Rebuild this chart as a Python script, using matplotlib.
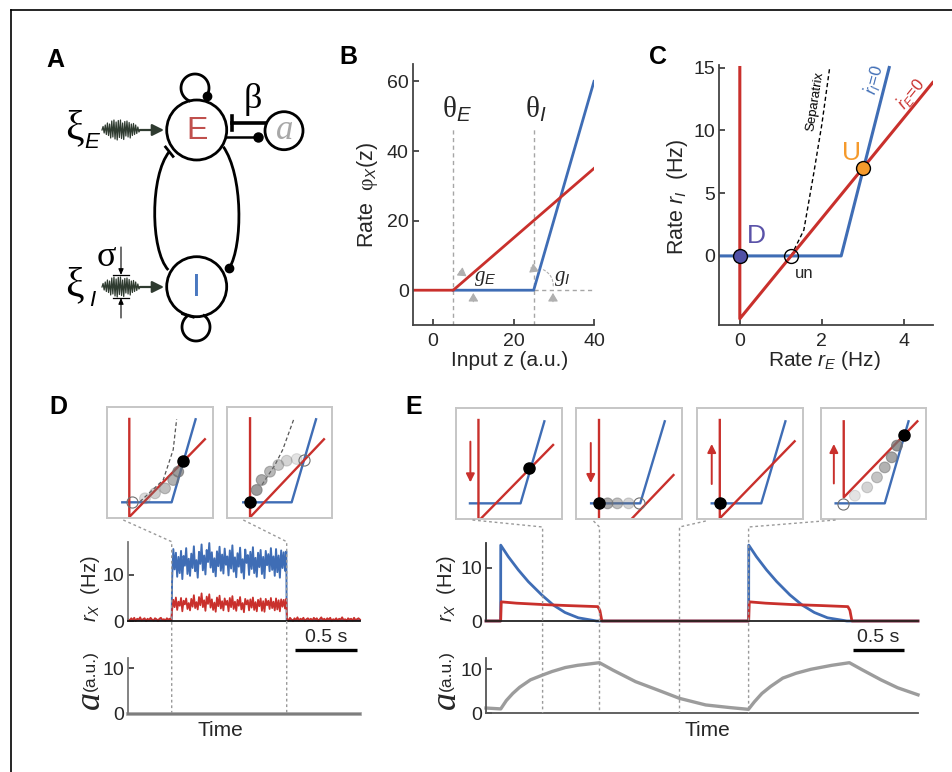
import numpy as np
import matplotlib
matplotlib.use("Agg")
import matplotlib.pyplot as plt
from matplotlib.patches import Circle, PathPatch
from matplotlib.path import Path

W, H = 952, 772
plt.rcParams['font.family'] = ['Liberation Sans', 'DejaVu Sans']
plt.rcParams['mathtext.fontset'] = 'custom'
plt.rcParams['mathtext.rm'] = 'Liberation Serif'
plt.rcParams['mathtext.it'] = 'Liberation Sans:italic'
plt.rcParams['mathtext.sf'] = 'Liberation Sans'
plt.rcParams['mathtext.cal'] = 'Liberation Serif:italic'

RED = '#c9302c'
BLUE = '#3f6db5'
AGRAY = '#9c9c9c'
TXT = '#262626'

# ---------------- data ----------------
# B: transfer functions
z_red = [-5, 5, 40]
phi_red = [0, 0, 35]
z_blue = [5, 25, 40]
phi_blue = [0, 0, 60]
theta_E, theta_I = 5, 25

# C: phase plane
rE_null_x = [0, 0, 4.7]
rE_null_y = [15, -5, 13.8]
rI_null_x = [-0.5, 2.47, 3.64]
rI_null_y = [0, 0, 15]
sep_x = [1.25, 1.56, 1.8, 2.0, 2.19]
sep_y = [0, 2.06, 6.55, 10.5, 15]
fp_D = (0, 0)
fp_un = (1.25, 0)
fp_U = (3.0, 7.0)

# A: noise squiggle
xi_noise = [0.0, 0.35, -0.3, 0.5, -0.45, 0.7, -0.55, 0.6, -0.8, 0.9, -0.7, 1.0,
            -0.9, 0.8, -1.0, 0.95, -0.75, 1.0, -0.85, 0.7, -0.95, 0.85, -0.6, 0.9,
            -0.7, 0.75, -0.8, 0.6, -0.55, 0.65, -0.45, 0.5, -0.35, 0.3, -0.2, 0.0]

# D: noisy rates (Hz)
D_on, D_off, D_end = 0.352, 1.285, 1.88
blue_up = [8.5, 15.6, 11.2, 14.8, 9.6, 13.9, 10.4, 15.2, 9.1, 14.1, 12.0, 15.8, 10.2,
           13.5, 9.8, 14.6, 11.5, 16.2, 10.8, 13.2, 9.4, 15.0, 12.4, 16.6, 11.0, 14.2,
           10.1, 15.4, 12.8, 16.9, 11.6, 14.9, 10.6, 13.6, 9.7, 15.1, 11.9, 16.1, 10.9,
           14.4, 10.3, 15.7, 12.2, 14.0, 9.9, 15.3, 11.4, 16.4, 10.7, 13.8, 9.5, 14.7,
           11.8, 15.9, 10.5, 13.4, 9.2, 15.5, 12.6, 14.3, 10.0, 15.0, 11.3, 16.0, 10.4,
           13.7, 9.6, 14.8, 11.7, 15.4, 10.2, 13.9, 9.3, 15.2, 12.1, 14.5, 10.8, 15.8,
           11.1, 14.0, 9.8, 15.6, 10.6, 14.2, 9.4, 15.3, 11.5, 14.9, 10.9, 15.1]
red_up = [2.2, 4.6, 3.0, 5.1, 2.4, 4.2, 3.3, 5.0, 2.1, 4.4, 3.6, 4.9, 2.6, 3.9, 2.3,
          4.8, 3.1, 5.6, 2.8, 4.1, 2.5, 5.2, 3.4, 6.0, 3.0, 4.5, 2.2, 5.3, 3.7, 5.8,
          2.9, 4.7, 2.4, 4.0, 2.0, 5.1, 3.2, 5.5, 2.7, 4.3, 2.3, 4.9, 3.5, 4.4, 2.1,
          5.0, 3.0, 5.4, 2.6, 4.2, 2.2, 4.6, 3.3, 5.2, 2.5, 3.9, 1.9, 4.8, 3.6, 4.5,
          2.3, 4.7, 2.9, 5.1, 2.4, 4.1, 2.1, 4.6, 3.2, 4.9, 2.2, 4.3, 2.0, 4.8, 3.4,
          4.4, 2.6, 5.0, 2.8, 4.2, 2.3, 4.9, 2.5, 4.5, 2.1, 4.7, 3.1, 4.6, 2.7, 4.8]
red_down_pre = [0.4, 0.1, 0.6, 0.2, 0.7, 0.0, 0.5, 0.3, 0.8, 0.1, 0.4, 0.6, 0.0, 0.5,
                0.2, 0.7, 0.3, 0.1, 0.6, 0.4, 0.0, 0.5, 0.7, 0.2, 0.4, 0.1, 0.6, 0.3,
                0.5, 0.2]
red_down_post = [0.5, 0.1, 0.7, 0.3, 0.0, 0.6, 0.2, 0.8, 0.1, 0.5, 0.3, 0.7, 0.0, 0.4,
                 0.6, 0.2, 0.5, 0.1, 0.7, 0.3, 0.6, 0.0, 0.4, 0.8, 0.2, 0.5, 0.1, 0.6,
                 0.3, 0.7, 0.0, 0.4, 0.2, 0.6, 0.1, 0.5, 0.3, 0.8, 0.2, 0.4, 0.0, 0.6,
                 0.3, 0.5, 0.1, 0.7, 0.2, 0.4, 0.6, 0.3]
blue_down = [0.2, 0.2]
D_a_t = [0, D_end]
D_a_v = [0, 0]

# E: rates and adaptation
E_blue_t = [0, 0.144, 0.145, 0.219, 0.318, 0.416, 0.548, 0.662, 0.777, 0.908, 1.088,
            2.584, 2.585, 2.66, 2.76, 2.86, 2.99, 3.11, 3.23, 3.36, 3.55, 4.25]
E_blue_v = [0, 0, 14.25, 12.1, 9.6, 7.4, 4.9, 3.0, 1.6, 0.6, 0,
            0, 14.25, 12.1, 9.6, 7.4, 4.9, 3.0, 1.6, 0.6, 0, 0]
E_red_t = [0, 0.144, 0.15, 0.3, 0.55, 0.8, 1.1, 1.12, 1.14,
           2.584, 2.59, 2.75, 3.0, 3.3, 3.56, 3.58, 3.60, 4.25]
E_red_v = [0, 0, 3.6, 3.35, 3.1, 2.9, 2.7, 2.0, 0,
           0, 3.6, 3.35, 3.1, 2.9, 2.7, 2.0, 0, 0]
E_a_t = [0, 0.145, 0.2, 0.263, 0.33, 0.437, 0.557, 0.65, 0.78, 0.9, 1.116, 1.25,
         1.471, 1.7, 1.903, 2.161, 2.4, 2.582, 2.64, 2.714, 2.8, 2.92, 3.05, 3.196,
         3.4, 3.575, 3.7, 3.886, 4.05, 4.25]
E_a_v = [1.2, 1.0, 2.9, 4.5, 5.9, 7.6, 8.7, 9.5, 10.4, 10.9, 11.5, 9.8,
         7.2, 5.2, 3.4, 1.9, 1.3, 0.9, 2.6, 4.5, 6.1, 8.0, 9.1, 10.0,
         10.9, 11.5, 9.9, 7.6, 5.8, 4.2]

# insets (normalised 0-100 box units)
D1_red = ([21.2, 21.2, 92.1], [89.5, 1.2, 71.2])
D1_blue = ([14.6, 60.9, 83.4], [14.4, 14.4, 89.2])
D1_sep = ([31.2, 53, 62.4, 65.6], [15, 34.5, 61.9, 89.2])
D1_dots = ([35.9, 45.3, 54.7, 62.4, 67.1], [18, 22.5, 27, 34.5, 42])
D1_dot_alpha = [0.25, 0.35, 0.45, 0.55, 0.7]
D1_open, D1_black = (23.4, 15), (71.8, 51.9)

D2_red = ([22.1, 22.1, 92.1], [90.1, 0.9, 71.2])
D2_blue = ([15.7, 61.5, 84.6], [14.4, 14.4, 89.2])
D2_sep = ([33.4, 45.7, 53.0, 63.5], [30.2, 48.0, 61.7, 89.2])
D2_dots = ([28.4, 33.1, 41, 48.9, 56.8, 66.3], [25.5, 34.5, 42, 48, 51.9, 53.4])
D2_dot_alpha = [0.7, 0.6, 0.5, 0.4, 0.3, 0.2]
D2_open, D2_black = (73.2, 52.5), (22.1, 15)

E1_red = ([21.5, 21.5, 23.4, 91.7], [89.2, 0, 0, 66.7])
E1_blue = ([13.5, 61.1, 83.5], [14.1, 14.1, 88])
E1_black = (69.3, 46.2)
E1_arrow = (13.9, 69.7, 33)

E2_red_v = ([22.1, 22.1], [89.2, 0])
E2_red_d = ([52.8, 91.7], [0.6, 39.6])
E2_blue = ([14.2, 60.4, 83.5], [14.1, 14.1, 88])
E2_dots = ([29.7, 38.9, 49.5], [14.1, 14.1, 14.1])
E2_dot_alpha = [0.6, 0.45, 0.3]
E2_open, E2_black = (59.4, 14.1), (22.1, 14.1)
E2_arrow = (13.9, 68.5, 32.4)

E3_red = ([21.5, 21.5, 92.1], [89.2, 0.6, 70])
E3_blue = ([13.9, 60.6, 83.4], [14.1, 14.1, 88])
E3_black = (21.5, 14.1)
E3_arrow = (13.9, 31.5, 67.6)

E4_red = ([21.7, 21.7, 91.7], [88, 19.5, 88])
E4_blue = ([14, 60.7, 83.3], [14.1, 14.1, 88])
E4_dots = ([32.3, 44, 53.3, 60.7, 67.3, 72.3], [21, 28.5, 37.5, 46.5, 55.6, 66.1])
E4_dot_alpha = [0.2, 0.3, 0.42, 0.55, 0.65, 0.75]
E4_open, E4_black = (20.7, 13.5), (79, 76)
E4_arrow = (12.3, 32, 67.6)

# ---------------- figure ----------------
fig = plt.figure(figsize=(W / 100, H / 100), dpi=100)


def rect(l, t, r, b):
    return [l / W, 1 - b / H, (r - l) / W, (b - t) / H]


ov = fig.add_axes([0, 0, 1, 1], zorder=5)
ov.set_xlim(0, W)
ov.set_ylim(H, 0)
ov.axis('off')

# frame
ov.plot([11, 952], [9.5, 9.5], color='k', lw=1.2, clip_on=False)
ov.plot([11, 11], [9.5, 772], color='k', lw=1.2, clip_on=False)

for lab, x, y in [('A', 55, 60), ('B', 348, 57), ('C', 658, 57), ('D', 58, 407), ('E', 414, 407)]:
    ov.text(x, y, lab, fontsize=18, fontweight='bold', ha='center', va='center')

# ---------------- panel A ----------------
cE, cI, ca = (196.7, 130), (196.7, 286.7), (284, 130.7)
for c, r in [(cE, 30), (cI, 30), (ca, 19)]:
    ov.add_patch(Circle(c, r, fill=False, lw=2, ec='k'))
ov.text(cE[0], cE[1] + 1, 'E', color='#c0504d', fontsize=23, ha='center', va='center')
ov.text(cI[0], cI[1] + 1, 'I', color='#4a78c0', fontsize=23, ha='center', va='center')
ov.text(ca[0], ca[1] - 1, r'$\mathcal{a}$', color='#a8a8a8', fontsize=25, ha='center', va='center')


def bar(x, y, c, L=12, lw=2):
    dx, dy = x - c[0], y - c[1]
    n = np.hypot(dx, dy)
    tx, ty = -dy / n, dx / n
    ov.plot([x - tx * L / 2, x + tx * L / 2], [y - ty * L / 2, y + ty * L / 2], color='k', lw=lw)


ang = np.radians(np.linspace(-35, 245, 80))
ov.plot(195 + 14 * np.cos(ang), 88 - 14 * np.sin(ang), color='k', lw=2)
ov.plot(206.5, 96, 'o', color='k', ms=6)
ang = np.radians(np.linspace(125, 415, 80))
ov.plot(196 + 14 * np.cos(ang), 327 - 14 * np.sin(ang), color='k', lw=2)
bar(188, 315.5, cI, L=11)

left = Path([(169.3, 151.7), (150, 175), (150, 250), (168.3, 270)],
            [Path.MOVETO, Path.CURVE4, Path.CURVE4, Path.CURVE4])
right = Path([(223.3, 146.7), (243, 175), (243, 245), (229.3, 268.3)],
             [Path.MOVETO, Path.CURVE4, Path.CURVE4, Path.CURVE4])
ov.add_patch(PathPatch(left, fill=False, lw=2, ec='k'))
ov.add_patch(PathPatch(right, fill=False, lw=2, ec='k'))
bar(169.3, 151.7, cE, L=12)
ov.plot(229.3, 268.3, 'o', color='k', ms=6)

ov.plot([232, 265], [122.7, 122.7], color='k', lw=2.6)
ov.plot([232, 232], [115.5, 130], color='k', lw=2.6)
ov.plot([226, 258], [136.7, 136.7], color='k', lw=1.8)
ov.plot(258, 136.7, 'o', color='k', ms=6.5)
ov.text(252, 99, r'$\mathrm{\beta}$', fontsize=26, ha='center', va='center')

NOISE = '#2f3b30'
xs = np.linspace(102, 140, len(xi_noise))
for yc, lab, sub in [(130, r'$\mathrm{\xi}$', 'E'), (287, r'$\mathrm{\xi}$', 'I')]:
    ov.plot(xs, yc - 10 * np.array(xi_noise), color=NOISE, lw=0.9)
    ov.annotate('', xy=(164, yc), xytext=(140, yc),
                arrowprops=dict(arrowstyle='-|>,head_length=0.7,head_width=0.35',
                                color=NOISE, lw=1.6, shrinkA=0, shrinkB=0))
    ov.text(75, yc - 1, lab, fontsize=30, ha='center', va='center')
    ov.text(92, yc + 13, sub, fontsize=16, style='italic', ha='center', va='center')

ov.text(106, 256, r'$\mathrm{\sigma}$', fontsize=26, ha='center', va='center')
for y0, y1 in [(247, 275), (318, 298)]:
    ov.annotate('', xy=(121, y1), xytext=(121, y0),
                arrowprops=dict(arrowstyle='-|>,head_length=0.35,head_width=0.15',
                                color='k', lw=0.8, shrinkA=0, shrinkB=0))
    ov.plot([113, 129], [y1, y1], color='k', lw=0.9)


def style_axes(ax, lc='#444444', bc='#444444'):
    for s in ['top', 'right']:
        ax.spines[s].set_visible(False)
    ax.spines['left'].set_color(lc)
    ax.spines['bottom'].set_color(bc)
    ax.spines['left'].set_linewidth(1.3)
    ax.spines['bottom'].set_linewidth(1.3)
    ax.tick_params(direction='in', length=4, width=1.2, labelsize=14,
                   labelcolor=TXT, color='#333333', pad=3)


# ---------------- panel B ----------------
axB = fig.add_axes(rect(413, 64, 594, 325))
style_axes(axB)
dash = (0, (3, 2.5))
axB.plot([theta_E, theta_E], [-10, 47], color='#a6a6a6', ls=dash, lw=1)
axB.plot([theta_I, theta_I], [-10, 47], color='#a6a6a6', ls=dash, lw=1)
axB.plot([theta_I, 40], [0, 0], color='#a6a6a6', ls=dash, lw=1)
axB.plot(z_blue, phi_blue, color=BLUE, lw=2)
axB.plot(z_red, phi_red, color=RED, lw=2)
axB.set_xlim(-5, 40)
axB.set_ylim(-10, 65)
axB.set_xticks([0, 20, 40])
axB.set_yticks([0, 20, 40, 60])
axB.tick_params(axis='x', pad=6)
axB.text(6, 52, r'$\mathrm{\theta}_E$', fontsize=21, ha='center', va='center', color=TXT)
axB.text(25.5, 52, r'$\mathrm{\theta}_I$', fontsize=21, ha='center', va='center', color=TXT)
axB.text(13, 3.3, r'$\mathcal{g}_E$', fontsize=15, ha='center', va='center', color=TXT)
axB.text(32.2, 3.3, r'$\mathcal{g}_I$', fontsize=15, ha='center', va='center', color=TXT)
ag = dict(arrowstyle='-|>,head_length=0.5,head_width=0.3', color='#b0b0b0', lw=0.8,
          shrinkA=0, shrinkB=0)
for tip, tail in [((8.3, 4.0), (6.6, 5.4)), ((10, -0.8), (10, -3.3)),
                  ((26.3, 5.4), (24.3, 6.4)), ((29.8, -0.8), (29.8, -3.3))]:
    axB.annotate('', xy=tip, xytext=tail, arrowprops=ag)
axB.annotate('', xy=(29.8, 0.3), xytext=(26.8, 6.2),
             arrowprops=dict(arrowstyle='-', color='#b0b0b0', lw=0.8, ls=(0, (2, 2)),
                             connectionstyle='arc3,rad=-0.4'))
ov.text(368, 195, r'Rate  $\mathrm{\varphi}_X$(z)', fontsize=15.5, rotation=90,
        ha='center', va='center', color=TXT)
ov.text(510, 361, 'Input z (a.u.)', fontsize=15, ha='center', va='center', color=TXT)

# ---------------- panel C ----------------
axC = fig.add_axes(rect(719.3, 65, 932.7, 325))
style_axes(axC)
axC.plot(sep_x, sep_y, color='k', ls=(0, (3, 2)), lw=1)
axC.plot(rI_null_x, rI_null_y, color=BLUE, lw=2.2)
axC.plot(rE_null_x, rE_null_y, color=RED, lw=2.2)
axC.plot(*fp_D, 'o', mfc='#5151a6', mec='k', ms=10, mew=1)
axC.plot(*fp_un, 'o', mfc='none', mec='k', ms=10, mew=1)
axC.plot(*fp_U, 'o', mfc='#f59a2c', mec='k', ms=10, mew=1)
axC.set_xlim(-0.5, 4.7)
axC.set_ylim(-5.5, 15.2)
axC.set_xticks([0, 2, 4])
axC.set_yticks([0, 5, 10, 15])
axC.tick_params(axis='x', pad=6)
axC.text(0.4, 1.6, 'D', color='#5a52a8', fontsize=19, ha='center', va='center')
axC.text(2.72, 8.2, 'U', color='#f59a2c', fontsize=19, ha='center', va='center')
axC.text(1.57, -1.4, 'un', fontsize=12, ha='center', va='center', color=TXT)
axC.text(1.84, 12.3, 'Separatrix', fontsize=9.5, rotation=81, ha='center', va='center')
axC.text(3.28, 14.0, r'$\dot{r}_I$=0', fontsize=12, rotation=75, ha='center',
         va='center', color=BLUE)
axC.text(4.2, 12.9, r'$\dot{r}_E$=0', fontsize=12, rotation=51, ha='center',
         va='center', color=RED)
ov.text(677, 197, r'Rate $r_I$  (Hz)', fontsize=15.5, rotation=90, ha='center',
        va='center', color=TXT)
ov.text(825, 361, r'Rate $r_E$ (Hz)', fontsize=15, ha='center', va='center', color=TXT)


# ---------------- insets ----------------
def make_inset(l, t, r, b):
    ax = fig.add_axes(rect(l, t, r, b))
    ax.set_xlim(0, 100)
    ax.set_ylim(0, 100)
    ax.set_xticks([])
    ax.set_yticks([])
    for s in ax.spines.values():
        s.set_color('#c6c6c6')
        s.set_linewidth(1.4)
    return ax


def dots(ax, pts, alphas):
    cols = [(0.45, 0.45, 0.45, a) for a in alphas]
    ax.scatter(pts[0], pts[1], s=60, c=cols, edgecolors=cols, linewidths=0.8, zorder=4)


def black(ax, p):
    ax.plot(*p, 'o', color='k', ms=8, zorder=6)


def hollow(ax, p):
    ax.plot(*p, 'o', mfc='none', mec='#707070', ms=8, mew=0.8, zorder=5)


def red_arrow(ax, a):
    ax.annotate('', xy=(a[0], a[2]), xytext=(a[0], a[1]),
                arrowprops=dict(arrowstyle='-|>,head_length=0.5,head_width=0.25',
                                color=RED, lw=1.4, shrinkA=0, shrinkB=0))


LWI = 1.7
ax = make_inset(106.7, 407.3, 213.3, 518.3)
ax.plot(*D1_sep, color='#555555', ls=(0, (3, 2)), lw=0.9)
ax.plot(*D1_blue, color=BLUE, lw=LWI)
ax.plot(*D1_red, color=RED, lw=LWI)
dots(ax, D1_dots, D1_dot_alpha)
hollow(ax, D1_open)
black(ax, D1_black)

ax = make_inset(226.7, 407.3, 332.3, 518.3)
ax.plot(*D2_sep, color='#555555', ls=(0, (3, 2)), lw=0.9)
ax.plot(*D2_blue, color=BLUE, lw=LWI)
ax.plot(*D2_red, color=RED, lw=LWI)
dots(ax, D2_dots, D2_dot_alpha)
hollow(ax, D2_open)
black(ax, D2_black)

ax = make_inset(455.6, 408, 561.9, 519)
ax.plot(*E1_blue, color=BLUE, lw=LWI)
ax.plot(*E1_red, color=RED, lw=LWI)
black(ax, E1_black)
red_arrow(ax, E1_arrow)

ax = make_inset(576, 408, 682.3, 519)
ax.plot(*E2_blue, color=BLUE, lw=LWI)
ax.plot(*E2_red_v, color=RED, lw=LWI)
ax.plot(*E2_red_d, color=RED, lw=LWI)
dots(ax, E2_dots, E2_dot_alpha)
hollow(ax, E2_open)
black(ax, E2_black)
red_arrow(ax, E2_arrow)

ax = make_inset(697, 408, 803, 519)
ax.plot(*E3_blue, color=BLUE, lw=LWI)
ax.plot(*E3_red, color=RED, lw=LWI)
black(ax, E3_black)
red_arrow(ax, E3_arrow)

ax = make_inset(820.9, 408, 926.1, 519)
ax.plot(*E4_blue, color=BLUE, lw=LWI)
ax.plot(*E4_red, color=RED, lw=LWI)
dots(ax, E4_dots, E4_dot_alpha)
hollow(ax, E4_open)
black(ax, E4_black)
red_arrow(ax, E4_arrow)

# ---------------- panel D traces ----------------
t_pre = np.linspace(0, D_on - 0.003, len(red_down_pre))
t_up = np.linspace(D_on + 0.003, D_off - 0.003, len(blue_up))
t_post = np.linspace(D_off + 0.003, D_end, len(red_down_post))
D_blue_t = [0, D_on] + list(t_up) + [D_off, D_end]
D_blue_v = blue_down[:1] + [blue_down[0]] + blue_up + [blue_down[1], blue_down[1]]
D_red_t = list(t_pre) + list(t_up) + list(t_post)
D_red_v = red_down_pre + red_up + red_down_post

axDr = fig.add_axes(rect(128.3, 541.7, 360, 621))
style_axes(axDr, lc='#7a7a7a', bc='#111111')
axDr.plot(D_blue_t, D_blue_v, color=BLUE, lw=1.4, clip_on=False)
axDr.plot(D_red_t, D_red_v, color=RED, lw=1.3, clip_on=False)
axDr.set_xlim(0, D_end)
axDr.set_ylim(0, 17.2)
axDr.set_xticks([])
axDr.set_yticks([0, 10])

axDa = fig.add_axes(rect(128.3, 658.3, 360, 714))
style_axes(axDa, lc='#7a7a7a', bc='#7a7a7a')
axDa.plot(D_a_t, D_a_v, color=AGRAY, lw=2.6, clip_on=False)
axDa.set_xlim(0, D_end)
axDa.set_ylim(0, 12.2)
axDa.set_xticks([])
axDa.set_yticks([0, 10])

# ---------------- panel E traces ----------------
axEr = fig.add_axes(rect(486, 543.3, 918, 621))
style_axes(axEr, lc='#333333', bc='#222222')
axEr.plot(E_blue_t, E_blue_v, color=BLUE, lw=2, clip_on=False)
axEr.plot(E_red_t, E_red_v, color=RED, lw=2, clip_on=False)
axEr.set_xlim(0, 4.25)
axEr.set_ylim(0, 14.6)
axEr.set_xticks([])
axEr.set_yticks([0, 10])

axEa = fig.add_axes(rect(486, 658.3, 918, 713.3))
style_axes(axEa, lc='#555555', bc='#555555')
axEa.plot(E_a_t, E_a_v, color=AGRAY, lw=2.4, clip_on=False)
axEa.set_xlim(0, 4.25)
axEa.set_ylim(0, 12.5)
axEa.set_xticks([])
axEa.set_yticks([0, 10])

# trace labels, scale bars, connectors
for x0 in (90, 446):
    ov.text(x0, 589, r'$r_X$  (Hz)', fontsize=14.5, rotation=90, ha='center', va='center', color=TXT)
    ov.text(x0, 671, '(a.u.)', fontsize=12.5, rotation=90, ha='center', va='center', color=TXT)
    ov.text(x0 + 1, 702, r'$\mathcal{a}$', fontsize=26, rotation=90, ha='center', va='center', color=TXT)
ov.text(220, 731, 'Time', fontsize=15, ha='center', va='center', color=TXT)
ov.text(707, 731, 'Time', fontsize=15, ha='center', va='center', color=TXT)

for xa, xb in [(295, 356.7), (853.2, 904)]:
    ov.plot([xa, xb], [650, 650], color='k', lw=2.4, solid_capstyle='butt')
    ov.text((xa + xb) / 2, 637.5, '0.5 s', fontsize=14, ha='center', va='center', color=TXT)

dot_kw = dict(color='#9a9a9a', lw=1, ls=(0, (2, 2)))
for (xa, ya), xb, yb in [((123.3, 520), 171.7, 541.7), ((243.3, 520), 286.7, 541.7),
                          ((472.5, 520), 542.6, 527), ((593.5, 521), 599.5, 527),
                          ((705.8, 521), 679.5, 527), ((835.6, 520), 748.6, 527)]:
    ov.plot([xa, xb, xb], [ya, yb, 713], **dot_kw)

fig.savefig('out.png', dpi=100)
